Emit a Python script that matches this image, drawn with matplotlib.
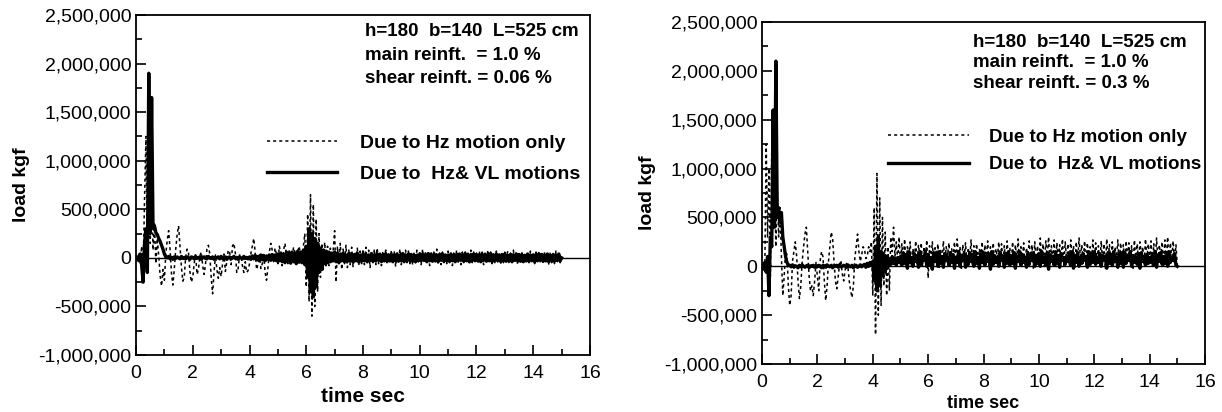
import numpy as np
import matplotlib
matplotlib.use("Agg")
import matplotlib.pyplot as plt
from matplotlib.ticker import FuncFormatter, MultipleLocator

plt.rcParams['font.family'] = ['Liberation Sans', 'DejaVu Sans']

# load values in 1000 kgf, sampled every 0.05 s from 0 to 15 s (one row = 1 s)
dt = 0.05

left_hz = [
    0, -20, 40, -60, 120, -150, 600, 1250, -100, 950, 150, 700, 80, 350, -60, 200, 20, -180, -290, -120,
    -230, 40, 180, 280, 90, -160, -280, -110, 90, 240, 330, 120, -90, -240, -200, 10, 90, 50, -140, -250,
    -200, -60, 40, -170, -120, 20, 60, -80, -170, -60, 90, 130, 40, -200, -370, -150, 30, -120, -210, -100,
    -190, -60, 40, -140, -40, 80, 60, -70, 120, 150, 50, -150, -110, 30, 20, -80, -150, -40, -150, -130,
    -60, 50, 120, 200, 60, -120, -60, 30, -110, -60, 40, -150, -230, -100, 60, 150, 80, -40, 100, 40,
    -60, 120, 60, -80, 80, 150, 40, -60, 90, 20, -50, 110, 60, -80, 60, 120, 20, -70, 120, 250,
    -300, 450, -450, 650, -600, 550, -500, 400, -350, 250, -200, 150, -120, 160, -100, 120, -80, 100, -60, 80,
    280, -250, 120, -80, 150, -120, 90, -60, 130, -100, 80, -70, 110, -90, 60, -50, 100, -80, 70, -60,
    90, -70, 110, -60, 80, -100, 60, -50, 90, -70, 100, -60, 50, -80, 70, -40, 80, -70, 60, -50,
    80, -60, 70, -90, 60, -40, 90, -70, 50, -60, 80, -50, 70, -60, 40, -70, 60, -50, 80, -40,
    60, -70, 90, -50, 70, -60, 40, -80, 70, -50, 60, -40, 90, -60, 50, -70, 60, -50, 40, -60,
    70, -50, 60, -80, 50, -40, 80, -60, 40, -70, 60, -50, 70, -40, 50, -60, 80, -50, 60, -40,
    50, -60, 70, -40, 60, -70, 50, -40, 80, -50, 60, -60, 40, -50, 70, -40, 60, -70, 50, -50,
    60, -40, 70, -60, 50, -50, 80, -40, 60, -70, 40, -50, 70, -60, 50, -40, 60, -50, 70, -40,
    50, -60, 60, -40, 70, -50, 40, -60, 60, -40, 50, -70, 60, -50, 40, -60, 70, -40, 50, -50,
    0]

left_vl = [
    0, 10, -30, 40, -80, -250, 150, 300, -150, 1900, 250, 1650, 300, 330, 260, 240, 200, 170, 130, 90,
    40, 10, 0, 15, -10, 5, -15, 10, -5, 10, 0, -10, 15, -5, 5, -10, 10, 0, -15, 10,
    5, -10, 15, -5, 0, 10, -15, 5, 10, -5, -10, 15, 0, -5, 10, -15, 5, 0, 10, -10,
    15, -5, 0, 10, -15, 5, 10, -10, 0, 15, -5, 5, -15, 10, 0, -10, 15, -5, 5, -10,
    10, -15, 20, -10, 25, -20, 15, -25, 30, -20, 25, -30, 20, -15, 30, -25, 35, -20, 30, -30,
    40, -30, 50, -40, 35, -50, 60, -30, 45, -55, 60, -40, 50, -60, 70, -45, 60, -50, 80, -70,
    120, -200, 300, -350, 250, -400, 200, -300, 150, -150, 100, -120, 80, -60, 70, -50, 60, -40, 50, -30,
    60, -40, 50, -50, 40, -30, 50, -40, 30, -35, 45, -30, 40, -45, 35, -30, 50, -40, 30, -35,
    40, -30, 35, -40, 30, -25, 45, -35, 30, -30, 40, -25, 35, -40, 30, -30, 45, -35, 25, -30,
    35, -40, 30, -30, 40, -35, 25, -30, 45, -40, 30, -25, 40, -30, 35, -35, 30, -40, 25, -30,
    40, -30, 35, -25, 30, -40, 45, -30, 25, -35, 40, -30, 30, -40, 35, -25, 40, -35, 30, -30,
    30, -35, 40, -30, 25, -40, 35, -30, 40, -25, 30, -35, 45, -30, 30, -40, 35, -25, 40, -30,
    35, -30, 30, -40, 40, -25, 30, -35, 35, -30, 45, -40, 30, -25, 40, -30, 25, -35, 35, -30,
    40, -35, 25, -30, 35, -40, 30, -25, 40, -30, 35, -35, 30, -40, 25, -30, 40, -35, 30, -25,
    30, -40, 35, -30, 40, -25, 35, -35, 30, -30, 40, -40, 25, -30, 35, -35, 30, -25, 40, -30,
    0]

right_hz = [
    0, 30, -40, 1250, 300, 1000, -100, 1200, 500, 900, 200, 800, 300, 600, 100, -300, -100, 150, 120, -200,
    -400, -300, 50, 150, 250, 100, -150, -330, -200, 50, 200, 330, 400, 150, -100, -250, -200, -300, -150, 40,
    -100, -250, 60, 150, 100, -150, -350, -200, 50, 200, 350, 280, 50, -150, -230, -100, 20, 60, -80, -150,
    -40, 30, 0, -150, -250, -320, -200, 80, 200, 330, 150, 50, 120, 200, 180, 80, 100, 200, 150, 250,
    -300, 600, -700, 950, -500, 700, -400, 500, -200, 350, -300, 200, -250, 300, 150, 400, 100, 250, 50, 300,
    20, 230, 60, 280, 10, 200, 90, 250, -20, 180, 70, 260, 30, 220, 100, 240, 0, 200, 80, 270,
    -120, 210, 50, 250, 20, 190, 80, 230, -30, 170, 60, 260, 40, 200, 110, 240, 10, 180, 70, 250,
    30, 280, 60, 200, -40, 220, 90, 240, 20, 190, 50, 270, 0, 210, 80, 230, 40, 180, 100, 250,
    10, 220, 70, 260, -20, 200, 50, 240, 30, 180, 90, 250, 0, 230, 60, 210, 20, 260, 80, 190,
    40, 250, -10, 220, 70, 280, 30, 200, 60, 240, 10, 190, 90, 260, 40, 220, -30, 250, 50, 210,
    20, 290, 60, 230, 0, 260, 80, 300, 30, 210, 50, 270, -20, 240, 70, 220, 40, 280, 10, 250,
    60, 230, 20, 270, 90, 210, -10, 250, 40, 290, 70, 220, 30, 260, 0, 240, 80, 200, 50, 270,
    30, 240, 70, 210, 10, 260, 50, 230, -30, 280, 90, 220, 40, 250, 20, 200, 60, 270, 0, 240,
    50, 220, 10, 260, 80, 240, 30, 210, -20, 270, 60, 230, 40, 250, 90, 200, 20, 280, 70, 230,
    40, 260, 0, 230, 60, 290, 30, 220, 80, 250, -10, 270, 50, 300, 20, 240, 70, 260, 40, 220,
    0]

right_vl = [
    0, -30, 40, -60, 100, -300, 300, 200, 1600, 400, 2100, 500, 600, 450, 550, 300, 200, 100, 40, 10,
    10, -5, 15, -10, 5, 0, -15, 10, -5, 15, 0, -10, 5, 10, -15, 5, 0, 10, -10, 5,
    -5, 10, 0, -15, 10, 5, -10, 15, 0, -5, 10, -15, 5, 0, 10, -10, 15, -5, 0, 10,
    5, -10, 15, 0, -5, 10, -15, 5, 10, -10, 0, 15, -5, 10, 20, -10, 30, 0, 40, 20,
    50, -150, 200, -250, 300, -200, 150, -100, 120, -60, 100, 0, 80, 20, 100, 30, 80, 10, 90, 40,
    100, 10, 140, 30, 120, -20, 150, 40, 90, 0, 130, 50, 110, -10, 140, 20, 100, 60, 150, 0,
    120, 20, 90, -30, 140, 50, 110, 0, 150, 30, 100, -10, 130, 60, 90, 10, 140, 40, 120, -20,
    90, 40, 150, 0, 110, 60, 130, -10, 100, 20, 140, 50, 120, 0, 150, 30, 90, -20, 130, 40,
    140, 10, 100, 50, 120, -30, 150, 20, 110, 40, 90, 0, 140, 60, 100, -10, 130, 30, 150, 10,
    110, 30, 140, -20, 100, 50, 150, 10, 120, 40, 90, -10, 130, 20, 110, 60, 140, 0, 100, 30,
    130, 0, 150, 40, 90, 20, 140, -30, 120, 50, 100, 10, 150, 30, 110, -10, 130, 60, 90, 20,
    100, 50, 120, 10, 150, -20, 110, 40, 140, 0, 90, 30, 130, 60, 100, -10, 150, 20, 120, 40,
    150, 20, 90, 40, 130, 0, 110, 60, 100, -20, 140, 30, 120, 10, 150, 50, 90, -10, 130, 30,
    120, -10, 140, 30, 100, 60, 150, 0, 110, 40, 90, 20, 130, -20, 140, 50, 100, 10, 120, 30,
    90, 40, 130, 10, 150, -10, 110, 50, 140, 20, 100, 30, 120, 0, 150, 40, 90, 60, 130, 10,
    0]

notes_left = ["h=180  b=140  L=525 cm", "main reinft.  = 1.0 %", "shear reinft. = 0.06 %"]
notes_right = ["h=180  b=140  L=525 cm", "main reinft.  = 1.0 %", "shear reinft. = 0.3 %"]
lab_hz = "Due to Hz motion only"
lab_vl = "Due to  Hz& VL motions"

fig = plt.figure(figsize=(12.22, 4.12), dpi=100)
ax1 = fig.add_axes([0.1113, 0.1383, 0.3715, 0.8253])
ax2 = fig.add_axes([0.6236, 0.1165, 0.3625, 0.830])

# ax, hz, vl, notes, xlabel size/pad, notes x/top/step/size, legend anchor/size/spacing/handle/pad
panels = [
    (ax1, left_hz, left_vl, notes_left, 15, 4, 0.504, 0.950, 0.068, 13.5,
     (0.249, 0.701), 14, 0.7, 3.6, 1.2),
    (ax2, right_hz, right_vl, notes_right, 13, 3, 0.476, 0.9415, 0.060, 13.5,
     (0.246, 0.738), 13.5, 0.55, 4.3, 1.07),
]

for (ax, hz, vl, notes, xl_size, xl_pad, nx, top, step, nsize,
     leg_pos, lsize, lspace, hlen, hpad) in panels:
    t = np.arange(len(hz)) * dt
    ax.plot(t, np.array(hz) * 1000, color='black', lw=1.1, ls=(0, (2, 2)), label=lab_hz)
    ax.plot(t, np.array(vl) * 1000, color='black', lw=2.4, label=lab_vl)
    ax.axhline(0, color='black', lw=1.0)
    ax.set_xlim(0, 16)
    ax.set_ylim(-1000000, 2500000)
    ax.xaxis.set_major_locator(MultipleLocator(2))
    ax.xaxis.set_minor_locator(MultipleLocator(1))
    ax.yaxis.set_major_locator(MultipleLocator(500000))
    ax.yaxis.set_minor_locator(MultipleLocator(250000))
    ax.yaxis.set_major_formatter(FuncFormatter(lambda v, p: f"{int(round(v)):,}"))
    ax.tick_params(which='both', direction='in', labelsize=14, width=1.2)
    ax.tick_params(axis='x', pad=7)
    ax.tick_params(which='major', length=7)
    ax.tick_params(which='minor', length=4)
    for s in ax.spines.values():
        s.set_linewidth(1.3)
    ax.set_xlabel("time sec", fontsize=xl_size, fontweight='bold', labelpad=xl_pad)
    ax.set_ylabel("load kgf", fontsize=14, fontweight='bold', labelpad=6)
    for i, line in enumerate(notes):
        ax.text(nx, top - i * step, line, transform=ax.transAxes,
                fontsize=nsize, fontweight='bold', va='center', ha='left')
    ax.legend(loc='upper left', bbox_to_anchor=leg_pos, frameon=False,
              handlelength=hlen, handletextpad=hpad, labelspacing=lspace,
              prop={'weight': 'bold', 'size': lsize})

fig.savefig("out.png", dpi=100)
